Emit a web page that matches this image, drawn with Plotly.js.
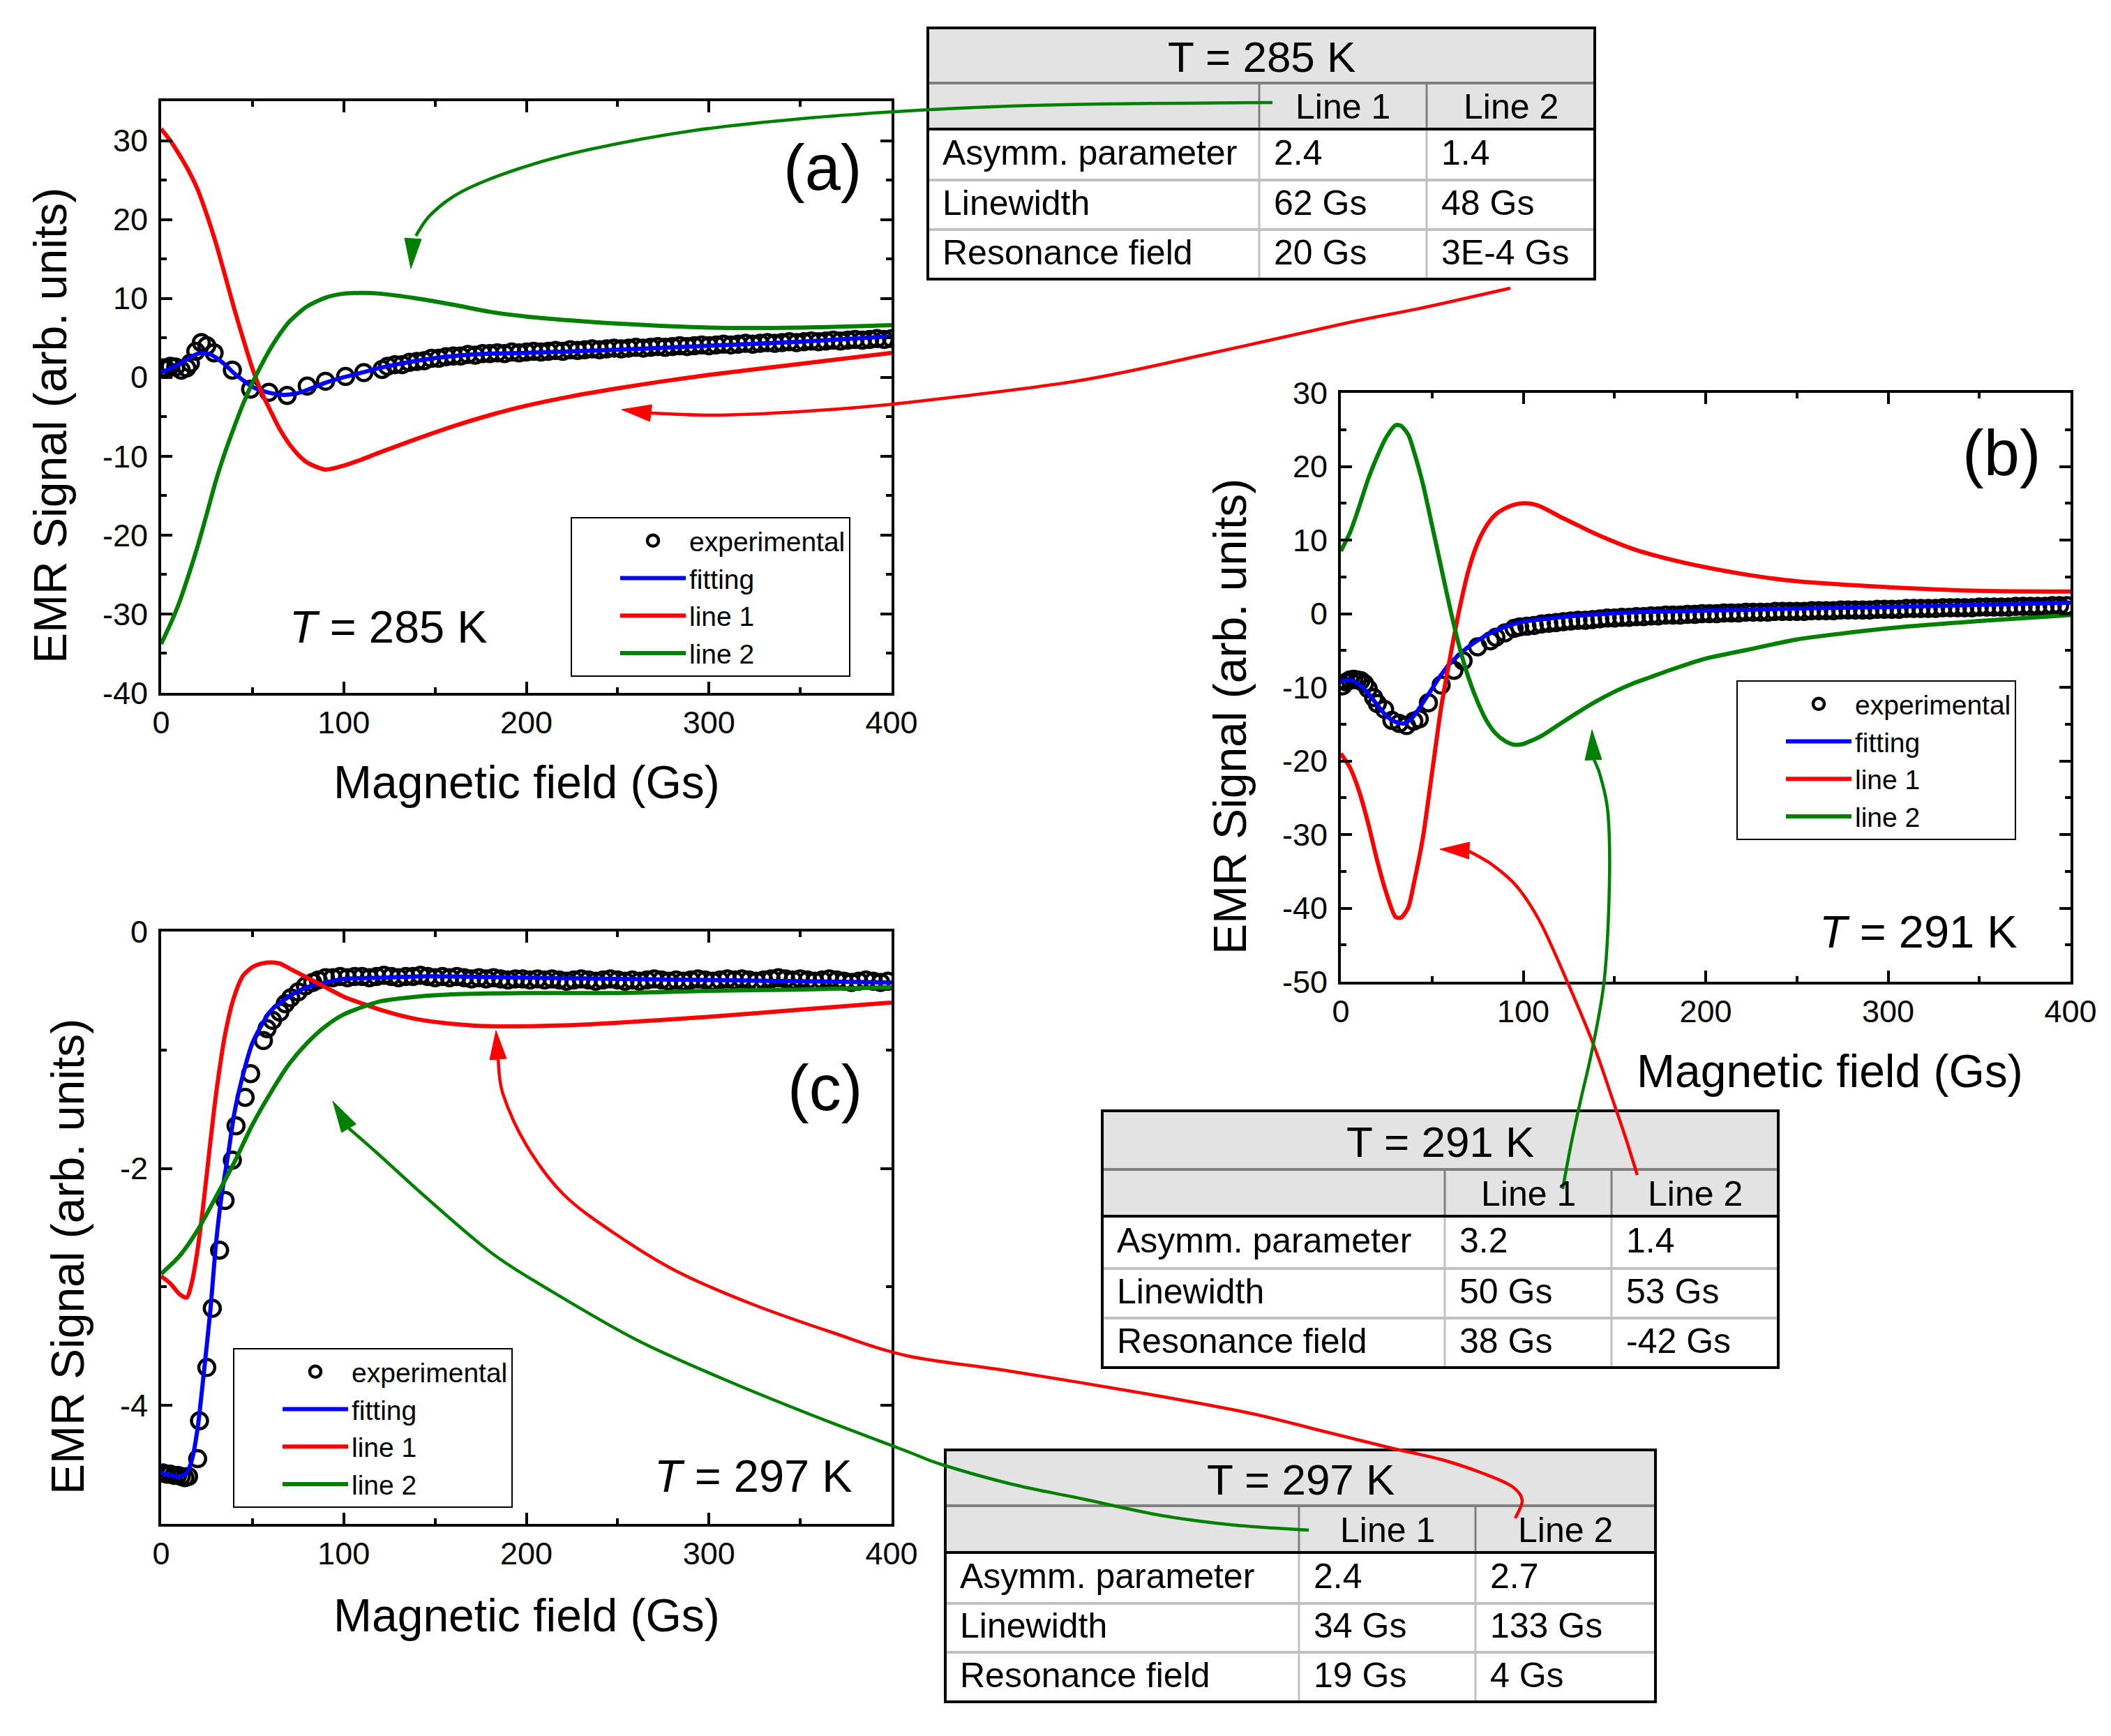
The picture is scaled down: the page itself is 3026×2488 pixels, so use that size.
<!DOCTYPE html>
<html><head><meta charset="utf-8">
<script src="https://cdn.plot.ly/plotly-3.0.1.min.js"></script>
<style>html,body{margin:0;padding:0;background:#fff}</style>
</head><body><div id="chart" style="width:3026px;height:2488px"></div>
<script>
// ================= DATA =================
// Panel (a) T = 285 K
const aExpX = [1,3,5,8,11,14,16,19,22,25,29,39,49,59,69,80,90,101,111,121,
  124,128,132,136,140,144,148,152,156,160,164,168,172,176,180,184,188,192,196,200,
  204,208,212,216,220,224,228,232,236,240,244,248,252,256,260,264,268,272,276,280,
  284,288,292,296,300,304,308,312,316,320,324,328,332,336,340,344,348,352,356,360,
  364,368,372,376,380,384,388,392,396,400];
const aExpY = [1.2,1.0,1.4,1.3,0.9,1.2,1.8,3.3,4.4,4.0,3.1,0.9,-1.5,-1.9,-2.3,-1.1,-0.5,0.1,0.6,1.0,
  1.4,1.6,1.6,1.9,2.0,2.1,2.4,2.4,2.6,2.7,2.7,2.9,2.8,3.0,3.0,3.1,3.0,3.2,3.1,3.2,
  3.3,3.2,3.3,3.4,3.3,3.5,3.4,3.5,3.6,3.5,3.6,3.7,3.6,3.7,3.8,3.7,3.8,3.9,3.8,3.9,
  4.0,3.9,4.0,4.1,4.0,4.1,4.2,4.1,4.2,4.3,4.2,4.3,4.4,4.3,4.4,4.5,4.4,4.5,4.6,4.5,
  4.6,4.7,4.6,4.7,4.8,4.7,4.8,4.9,4.8,4.9];
const aFitX = [0,5,10,15,20,23,27,30,35,40,45,50,55,60,65,70,75,80,90,100,110,120,140,160,180,200,250,300,350,400];
const aFitY = [0.6,1.1,1.7,2.4,3.0,3.1,2.9,2.5,1.6,0.5,-0.4,-1.2,-1.7,-2.0,-2.2,-2.2,-2.0,-1.6,-0.7,0.0,0.6,1.2,2.1,2.7,3.0,3.1,3.5,4.0,4.5,5.2];
const aLine1X = [0,5,10,15,20,25,30,35,40,45,50,55,60,65,70,75,80,90,100,110,120,140,160,180,200,225,250,275,300,350,400];
const aLine1Y = [31.5,30.0,28.2,26.2,23.8,20.6,17.0,12.9,8.7,4.8,1.1,-1.9,-4.3,-6.6,-8.4,-9.8,-10.8,-11.7,-11.2,-10.4,-9.5,-7.8,-6.2,-4.8,-3.6,-2.4,-1.4,-0.5,0.3,1.7,3.1];
const aLine2X = [0,5,10,15,20,25,30,35,40,45,50,55,60,65,70,75,80,90,100,110,120,140,160,180,200,225,250,300,350,400];
const aLine2Y = [-33.8,-31.3,-28.5,-25.1,-21.4,-17.3,-13.1,-9.5,-6.3,-3.3,-0.7,1.6,3.7,5.5,7.0,8.1,9.0,10.1,10.6,10.7,10.6,10.0,9.2,8.3,7.7,7.2,6.8,6.3,6.3,6.6];

// Panel (b) T = 291 K
const bExpX = [1,3,5,7,9,11,13,15,18,20,24,28,32,36,40,43,48,55,62,67,75,82,85,90,95,
  98,102,106,110,114,118,122,126,130,134,138,142,146,150,154,158,162,166,170,174,
  178,182,186,190,194,198,202,206,210,214,218,222,226,230,234,238,242,246,250,254,
  258,262,266,270,274,278,282,286,290,294,298,302,306,310,314,318,322,326,330,334,
  338,342,346,350,354,358,362,366,370,374,378,382,386,390,394,398];
const bExpY = [-9.8,-9.3,-9.0,-8.9,-9.0,-9.1,-9.5,-10.2,-11.4,-12.2,-13.0,-14.5,-14.9,-15.2,-14.6,-14.3,-12.1,-9.7,-7.7,-6.4,-4.5,-3.7,-3.2,-2.6,-2.0,
  -1.8,-1.7,-1.6,-1.4,-1.3,-1.2,-1.1,-1.0,-0.9,-0.9,
  -0.8,-0.7,-0.6,-0.6,-0.5,-0.5,-0.4,-0.4,-0.3,-0.3,
  -0.2,-0.2,-0.2,-0.1,-0.1,0.0,0.0,0.0,0.1,0.1,
  0.1,0.2,0.2,0.2,0.2,0.3,0.3,0.3,0.3,0.3,
  0.4,0.4,0.4,0.4,0.5,0.5,0.5,0.5,0.5,0.6,
  0.6,0.6,0.6,0.7,0.7,0.7,0.7,0.7,0.8,0.8,
  0.8,0.8,0.8,0.9,0.9,0.9,0.9,0.9,1.0,1.0,
  1.0,1.0,1.0,1.1,1.1,1.1];
const bFitX = [0,5,10,15,20,25,30,35,40,45,50,55,60,70,80,90,100,120,140,160,200,250,300,350,400];
const bFitY = [-9.2,-9.0,-9.6,-10.8,-12.4,-13.9,-14.7,-14.9,-13.9,-12.1,-10.2,-8.3,-6.7,-4.5,-2.9,-1.8,-1.1,-0.5,-0.1,0.2,0.4,0.7,0.9,1.2,1.5];
const bLine1X = [0,5,10,15,20,25,30,33,37,40,45,50,55,60,65,70,75,80,85,90,95,100,105,110,120,130,140,160,180,200,225,250,300,350,400];
const bLine1Y = [-19.0,-20.9,-24.1,-28.5,-33.6,-38.0,-41.2,-41.3,-39.9,-36.7,-30.4,-21.6,-12.7,-5.8,0.6,5.9,9.6,12.0,13.5,14.3,14.8,15.0,14.9,14.5,13.2,12.0,10.8,8.8,7.4,6.3,5.2,4.4,3.6,3.1,3.0];
const bLine2X = [0,5,10,15,20,25,30,33,37,40,45,50,55,60,65,70,75,80,85,90,95,100,105,110,120,130,140,150,160,170,180,200,225,250,300,350,400];
const bLine2Y = [8.5,11.0,14.5,18.3,21.4,24.0,25.6,25.5,24.3,22.1,17.6,12.0,6.3,0.6,-4.5,-8.7,-12.0,-14.6,-16.3,-17.3,-17.8,-17.7,-17.2,-16.6,-15.0,-13.4,-11.9,-10.6,-9.5,-8.6,-7.7,-6.1,-4.8,-3.5,-2.0,-1.0,-0.2];

// Panel (c) T = 297 K
const cExpX = [1,3,5,7,9,11,13,15,20,21,25,28,32,35,39,41,46,49,56,58,61,65,68,71,75,79,83,86,90,
  94,98,102,106,110,114,118,122,126,130,134,138,142,146,150,154,158,162,166,170,
  174,178,182,186,190,194,198,202,206,210,214,218,222,226,230,234,238,242,246,250,
  254,258,262,266,270,274,278,282,286,290,294,298,302,306,310,314,318,322,326,330,
  334,338,342,346,350,354,358,362,366,370,374,378,382,386,390,394,398];
const cExpY = [-4.57,-4.58,-4.58,-4.59,-4.59,-4.60,-4.61,-4.60,-4.45,-4.13,-3.68,-3.18,-2.69,-2.27,-1.93,-1.64,-1.40,-1.20,-0.92,-0.82,-0.75,-0.68,-0.61,-0.56,-0.51,-0.46,-0.43,-0.41,-0.39,
  -0.39,-0.38,-0.39,-0.38,-0.38,-0.39,-0.38,-0.37,-0.38,-0.39,
  -0.38,-0.38,-0.37,-0.38,-0.39,-0.38,-0.39,-0.38,-0.39,-0.40,
  -0.39,-0.40,-0.39,-0.40,-0.41,-0.40,-0.40,-0.41,-0.40,-0.41,
  -0.40,-0.41,-0.42,-0.41,-0.40,-0.41,-0.42,-0.41,-0.40,-0.41,
  -0.42,-0.41,-0.42,-0.41,-0.40,-0.41,-0.42,-0.41,-0.42,-0.41,
  -0.40,-0.41,-0.42,-0.41,-0.40,-0.41,-0.40,-0.41,-0.42,-0.41,
  -0.40,-0.39,-0.40,-0.41,-0.40,-0.41,-0.42,-0.41,-0.40,-0.41,
  -0.42,-0.43,-0.42,-0.41,-0.42,-0.43,-0.42];
const cFitX = [0,5,10,14,17,20,23,27,30,33,37,40,45,50,55,60,70,80,90,100,120,140,160,200,250,300,350,400];
const cFitY = [-4.57,-4.59,-4.60,-4.57,-4.45,-4.19,-3.78,-3.19,-2.64,-2.24,-1.85,-1.54,-1.20,-0.94,-0.79,-0.67,-0.55,-0.47,-0.43,-0.40,-0.39,-0.38,-0.38,-0.39,-0.40,-0.41,-0.42,-0.43];
const cLine1X = [0,5,10,14,17,20,23,27,30,35,40,45,50,55,60,65,70,80,90,100,120,140,160,180,200,225,250,300,350,400];
const cLine1Y = [-2.91,-2.97,-3.06,-3.09,-2.95,-2.68,-2.32,-1.77,-1.38,-0.87,-0.55,-0.37,-0.30,-0.27,-0.26,-0.27,-0.31,-0.39,-0.47,-0.55,-0.66,-0.74,-0.78,-0.80,-0.80,-0.79,-0.77,-0.72,-0.66,-0.60];
const cLine2X = [0,10,20,30,40,50,60,70,80,90,100,120,140,160,200,250,300,350,400];
const cLine2Y = [-2.89,-2.74,-2.52,-2.24,-1.95,-1.63,-1.36,-1.12,-0.94,-0.80,-0.70,-0.59,-0.55,-0.53,-0.52,-0.52,-0.50,-0.49,-0.47];

// Tick values and labels
const xTickVals = [0,100,200,300,400];
const xTickText = ['0','100','200','300','400'];
const xMinorVals = [50,150,250,350];
const aYTickVals = [-40,-30,-20,-10,0,10,20,30];
const aYTickText = ['-40','-30','-20','-10','0','10','20','30'];
const aYMinorVals = [-35,-25,-15,-5,5,15,25];
const bYTickVals = [-50,-40,-30,-20,-10,0,10,20,30];
const bYTickText = ['-50','-40','-30','-20','-10','0','10','20','30'];
const bYMinorVals = [-45,-35,-25,-15,-5,5,15,25];
const cYTickVals = [-4,-2,0];
const cYTickText = ['-4','-2','0'];
const cYMinorVals = [-3,-1];

// Legend names
const seriesNames = ['experimental','fitting','line 1','line 2'];

// Tables
const tableTitles = ['T = 285 K','T = 291 K','T = 297 K'];
const colHeaders = ['Line 1','Line 2'];
const rowLabels = ['Asymm. parameter','Linewidth','Resonance field'];
const tabA_line1 = ['2.4','62 Gs','20 Gs'];
const tabA_line2 = ['1.4','48 Gs','3E-4 Gs'];
const tabB_line1 = ['3.2','50 Gs','38 Gs'];
const tabB_line2 = ['1.4','53 Gs','-42 Gs'];
const tabC_line1 = ['2.4','34 Gs','19 Gs'];
const tabC_line2 = ['2.7','133 Gs','4 Gs'];

// Panel labels / temperature labels
const panelLabels = ['(a)','(b)','(c)'];
const tempLabels = ['<i>T</i> = 285 K','<i>T</i> = 291 K','<i>T</i> = 297 K'];
const xTitle = 'Magnetic field (Gs)';
const yTitle = 'EMR Signal (arb. units)';

// ================= DRAWING =================
const FONT = 'Liberation Sans, Arial, Helvetica, sans-serif';
const W = 3026, H = 2488;
const px = v => v / W;
const py = v => 1 - v / H;

const BLUE = '#0000ff', RED = '#ff0000', GREEN = '#008000';

function expTrace(x, y, xa, ya, lg) {
  return {type:'scatter', mode:'markers', x, y, xaxis:xa, yaxis:ya, legend:lg, name:seriesNames[0],
    marker:{symbol:'circle-open', size:23, color:'black', line:{width:4.5, color:'black'}}};
}
function lineTrace(x, y, xa, ya, lg, name, color) {
  return {type:'scatter', mode:'lines', x, y, xaxis:xa, yaxis:ya, legend:lg, name,
    line:{color, width:6, shape:'spline', smoothing:0.7}};
}

const data = [
  expTrace(aExpX, aExpY, 'x', 'y', 'legend'),
  lineTrace(aFitX, aFitY, 'x', 'y', 'legend', seriesNames[1], BLUE),
  lineTrace(aLine1X, aLine1Y, 'x', 'y', 'legend', seriesNames[2], RED),
  lineTrace(aLine2X, aLine2Y, 'x', 'y', 'legend', seriesNames[3], GREEN),
  expTrace(bExpX, bExpY, 'x2', 'y2', 'legend2'),
  lineTrace(bFitX, bFitY, 'x2', 'y2', 'legend2', seriesNames[1], BLUE),
  lineTrace(bLine1X, bLine1Y, 'x2', 'y2', 'legend2', seriesNames[2], RED),
  lineTrace(bLine2X, bLine2Y, 'x2', 'y2', 'legend2', seriesNames[3], GREEN),
  expTrace(cExpX, cExpY, 'x3', 'y3', 'legend3'),
  lineTrace(cFitX, cFitY, 'x3', 'y3', 'legend3', seriesNames[1], BLUE),
  lineTrace(cLine1X, cLine1Y, 'x3', 'y3', 'legend3', seriesNames[2], RED),
  lineTrace(cLine2X, cLine2Y, 'x3', 'y3', 'legend3', seriesNames[3], GREEN)
];

function axisCommon() {
  return {ticks:'inside', ticklen:16, tickwidth:4, tickcolor:'black',
    showline:true, linewidth:4, linecolor:'black', mirror:'allticks',
    showgrid:false, zeroline:false, fixedrange:true, tickmode:'array',
    tickfont:{size:45, family:FONT, color:'black'}};
}
function minorOf(vals) {
  return {tickmode:'array', tickvals:vals, ticks:'inside', ticklen:8, tickwidth:4, tickcolor:'black', showgrid:false};
}
function xAxis(domain, anchor) {
  return Object.assign(axisCommon(), {domain, anchor, range:[0,400], tickvals:xTickVals, ticktext:xTickText,
    ticklabelstandoff:0, minor:minorOf(xMinorVals)});
}
function yAxis(domain, anchor, range, vals, text, minorVals) {
  return Object.assign(axisCommon(), {domain, anchor, range, tickvals:vals, ticktext:text,
    ticklabelstandoff:6, minor:minorOf(minorVals)});
}

function legendAt(left, top) {
  return {x:px(left), y:py(top), xanchor:'left', yanchor:'top', bgcolor:'white',
    bordercolor:'black', borderwidth:2, font:{size:39, family:FONT, color:'black'},
    itemwidth:94, indentation:64, tracegroupgap:0};
}

const shapes = [];
const annotations = [];
function hline(x0, x1, y, color, w) {
  shapes.push({type:'line', xref:'paper', yref:'paper', x0:px(x0), x1:px(x1), y0:py(y), y1:py(y), line:{color, width:w}});
}
function vline(x, y0, y1, color, w) {
  shapes.push({type:'line', xref:'paper', yref:'paper', x0:px(x), x1:px(x), y0:py(y0), y1:py(y1), line:{color, width:w}});
}
function rect(x0, y0, x1, y1, fill, lc, lw) {
  shapes.push({type:'rect', xref:'paper', yref:'paper', x0:px(x0), x1:px(x1), y0:py(y1), y1:py(y0),
    fillcolor:fill, line:{color:lc || 'rgba(0,0,0,0)', width:lw || 0}});
}
function txt(t, x, y, size, xanchor, extra) {
  annotations.push(Object.assign({text:t, xref:'paper', yref:'paper', x:px(x), y:py(y), xanchor:xanchor || 'center',
    yanchor:'middle', showarrow:false, font:{size, family:FONT, color:'black'}}, extra || {}));
}

function drawTable(g, title, v1, v2) {
  rect(g.l, g.t, g.r, g.hb, '#e3e3e3');
  rect(g.l, g.hb, g.r, g.b, '#ffffff');
  hline(g.l, g.r, g.tb, '#808080', 4);
  vline(g.c1, g.tb, g.hb, '#808080', 3);
  vline(g.c2, g.tb, g.hb, '#808080', 3);
  vline(g.c1, g.hb, g.b, '#c0c0c0', 3);
  vline(g.c2, g.hb, g.b, '#c0c0c0', 3);
  hline(g.l, g.r, g.r1, '#c0c0c0', 4);
  hline(g.l, g.r, g.r2, '#c0c0c0', 4);
  hline(g.l, g.r, g.hb, 'black', 4);
  rect(g.l, g.t, g.r, g.b, 'rgba(0,0,0,0)', 'black', 4);
  txt(title, (g.l + g.r) / 2, (g.t + g.tb) / 2 + 2, 62);
  const hy = (g.tb + g.hb) / 2 + 1;
  txt(colHeaders[0], (g.c1 + g.c2) / 2, hy, 50);
  txt(colHeaders[1], (g.c2 + g.r) / 2, hy, 50);
  const rows = [[g.hb, g.r1], [g.r1, g.r2], [g.r2, g.b]];
  rows.forEach((r, i) => {
    const cy = (r[0] + r[1]) / 2 - 3;
    txt(rowLabels[i], g.l + 19, cy, 50, 'left');
    txt(v1[i], g.c1 + 19, cy, 50, 'left');
    txt(v2[i], g.c2 + 19, cy, 50, 'left');
  });
}

drawTable({l:1330, r:2286, t:40, tb:119, hb:185, c1:1805, c2:2045, r1:258, r2:329, b:400}, tableTitles[0], tabA_line1, tabA_line2);
drawTable({l:1580, r:2549, t:1592, tb:1676, hb:1743, c1:2071, c2:2310, r1:1818, r2:1889, b:1960}, tableTitles[1], tabB_line1, tabB_line2);
drawTable({l:1355, r:2373, t:2078, tb:2158, hb:2225, c1:1862, c2:2115, r1:2298, r2:2368, b:2439}, tableTitles[2], tabC_line1, tabC_line2);

// curved pointer arrows (decoration) in page pixels
function smoothPath(pts) {
  const P = pts.map(p => [px(p[0]), py(p[1])]);
  let d = 'M' + P[0][0] + ',' + P[0][1];
  for (let i = 0; i < P.length - 1; i++) {
    const p0 = P[i - 1] || P[i], p1 = P[i], p2 = P[i + 1], p3 = P[i + 2] || P[i + 1];
    const c1 = [p1[0] + (p2[0] - p0[0]) / 6, p1[1] + (p2[1] - p0[1]) / 6];
    const c2 = [p2[0] - (p3[0] - p1[0]) / 6, p2[1] - (p3[1] - p1[1]) / 6];
    d += ' C' + c1[0] + ',' + c1[1] + ' ' + c2[0] + ',' + c2[1] + ' ' + p2[0] + ',' + p2[1];
  }
  return d;
}
function arrow(pts, tip, base, color) {
  shapes.push({type:'path', xref:'paper', yref:'paper', path:smoothPath(pts), line:{color, width:4.5}});
  const dx = base[0] - tip[0], dy = base[1] - tip[1], L = Math.hypot(dx, dy);
  const nx = -dy / L, ny = dx / L, w = 12;
  const a = [base[0] + nx * w, base[1] + ny * w], b = [base[0] - nx * w, base[1] - ny * w];
  const path = 'M' + px(tip[0]) + ',' + py(tip[1]) + ' L' + px(a[0]) + ',' + py(a[1]) + ' L' + px(b[0]) + ',' + py(b[1]) + ' Z';
  shapes.push({type:'path', xref:'paper', yref:'paper', path, fillcolor:color, line:{color, width:1}});
}
arrow([[1824,147],[1700,148],[1580,149],[1450,152],[1300,159],[1150,170],[995,187],[846,214],[746,241],[663,274],[618,307],[596,338]], [589,385], [592,342], GREEN);
arrow([[2165,413],[2040,441],[1930,463],[1737,506],[1544,546],[1300,577],[1161,589],[1028,595],[933,592]], [891,587], [933,592], RED);
arrow([[2347,1684],[2330,1630],[2313,1580],[2283,1494],[2241,1394],[2207,1320],[2174,1270],[2140,1240],[2106,1220]], [2064,1217], [2106,1219], RED);
arrow([[2240,1704],[2252,1640],[2265,1580],[2283,1501],[2300,1401],[2307,1267],[2305,1166],[2294,1112],[2285,1089]], [2282,1046], [2284,1089], GREEN);
arrow([[2172,2176],[2182,2150],[2167,2130],[2127,2112],[2067,2092],[1993,2075],[1900,2052],[1790,2025],[1640,1997],[1447,1965],[1300,1943],[1194,1910],[1078,1869],[970,1822],[883,1769],[808,1712],[755,1642],[721,1568],[714,1518]], [711,1477], [714,1518], RED);
arrow([[1876,2193],[1772,2186],[1665,2172],[1551,2148],[1450,2127],[1350,2099],[1300,2080],[1161,2027],[1036,1976],[912,1920],[788,1849],[705,1796],[614,1719],[540,1652],[500,1617]], [477,1578], [500,1617], GREEN);

// axis titles
txt(xTitle, 755, 1121, 66);
txt(yTitle, 72, 610, 66, 'center', {textangle:-90});
txt(xTitle, 2623, 1535, 66);
txt(yTitle, 1763, 1027, 66, 'center', {textangle:-90});
txt(xTitle, 755, 2315, 66);
txt(yTitle, 97, 1801, 66, 'center', {textangle:-90});

// panel letters and temperatures
txt(panelLabels[0], 1179, 240, 92);
txt(panelLabels[1], 2869, 649, 92);
txt(panelLabels[2], 1182, 1559, 92);
txt(tempLabels[0], 557, 898, 65);
txt(tempLabels[1], 2750, 1335, 65);
txt(tempLabels[2], 1080, 2115, 65);

const layout = {
  width:W, height:H, margin:{l:0, r:0, t:0, b:0},
  paper_bgcolor:'white', plot_bgcolor:'white',
  font:{family:FONT, color:'black'},
  showlegend:true,
  xaxis: xAxis([px(231), px(1278)], 'y'),
  yaxis: yAxis([py(993), py(145)], 'x', [-40, 35], aYTickVals, aYTickText, aYMinorVals),
  xaxis2: xAxis([px(1922), px(2968)], 'y2'),
  yaxis2: yAxis([py(1407), py(563)], 'x2', [-50, 30], bYTickVals, bYTickText, bYMinorVals),
  xaxis3: xAxis([px(231), px(1278)], 'y3'),
  yaxis3: yAxis([py(2184), py(1335)], 'x3', [-5, 0], cYTickVals, cYTickText, cYMinorVals),
  legend: legendAt(818, 741),
  legend2: legendAt(2489, 975),
  legend3: legendAt(334, 1932),
  shapes, annotations
};

Plotly.newPlot('chart', data, layout, {displayModeBar:false, staticPlot:true});
</script>
</body></html>
